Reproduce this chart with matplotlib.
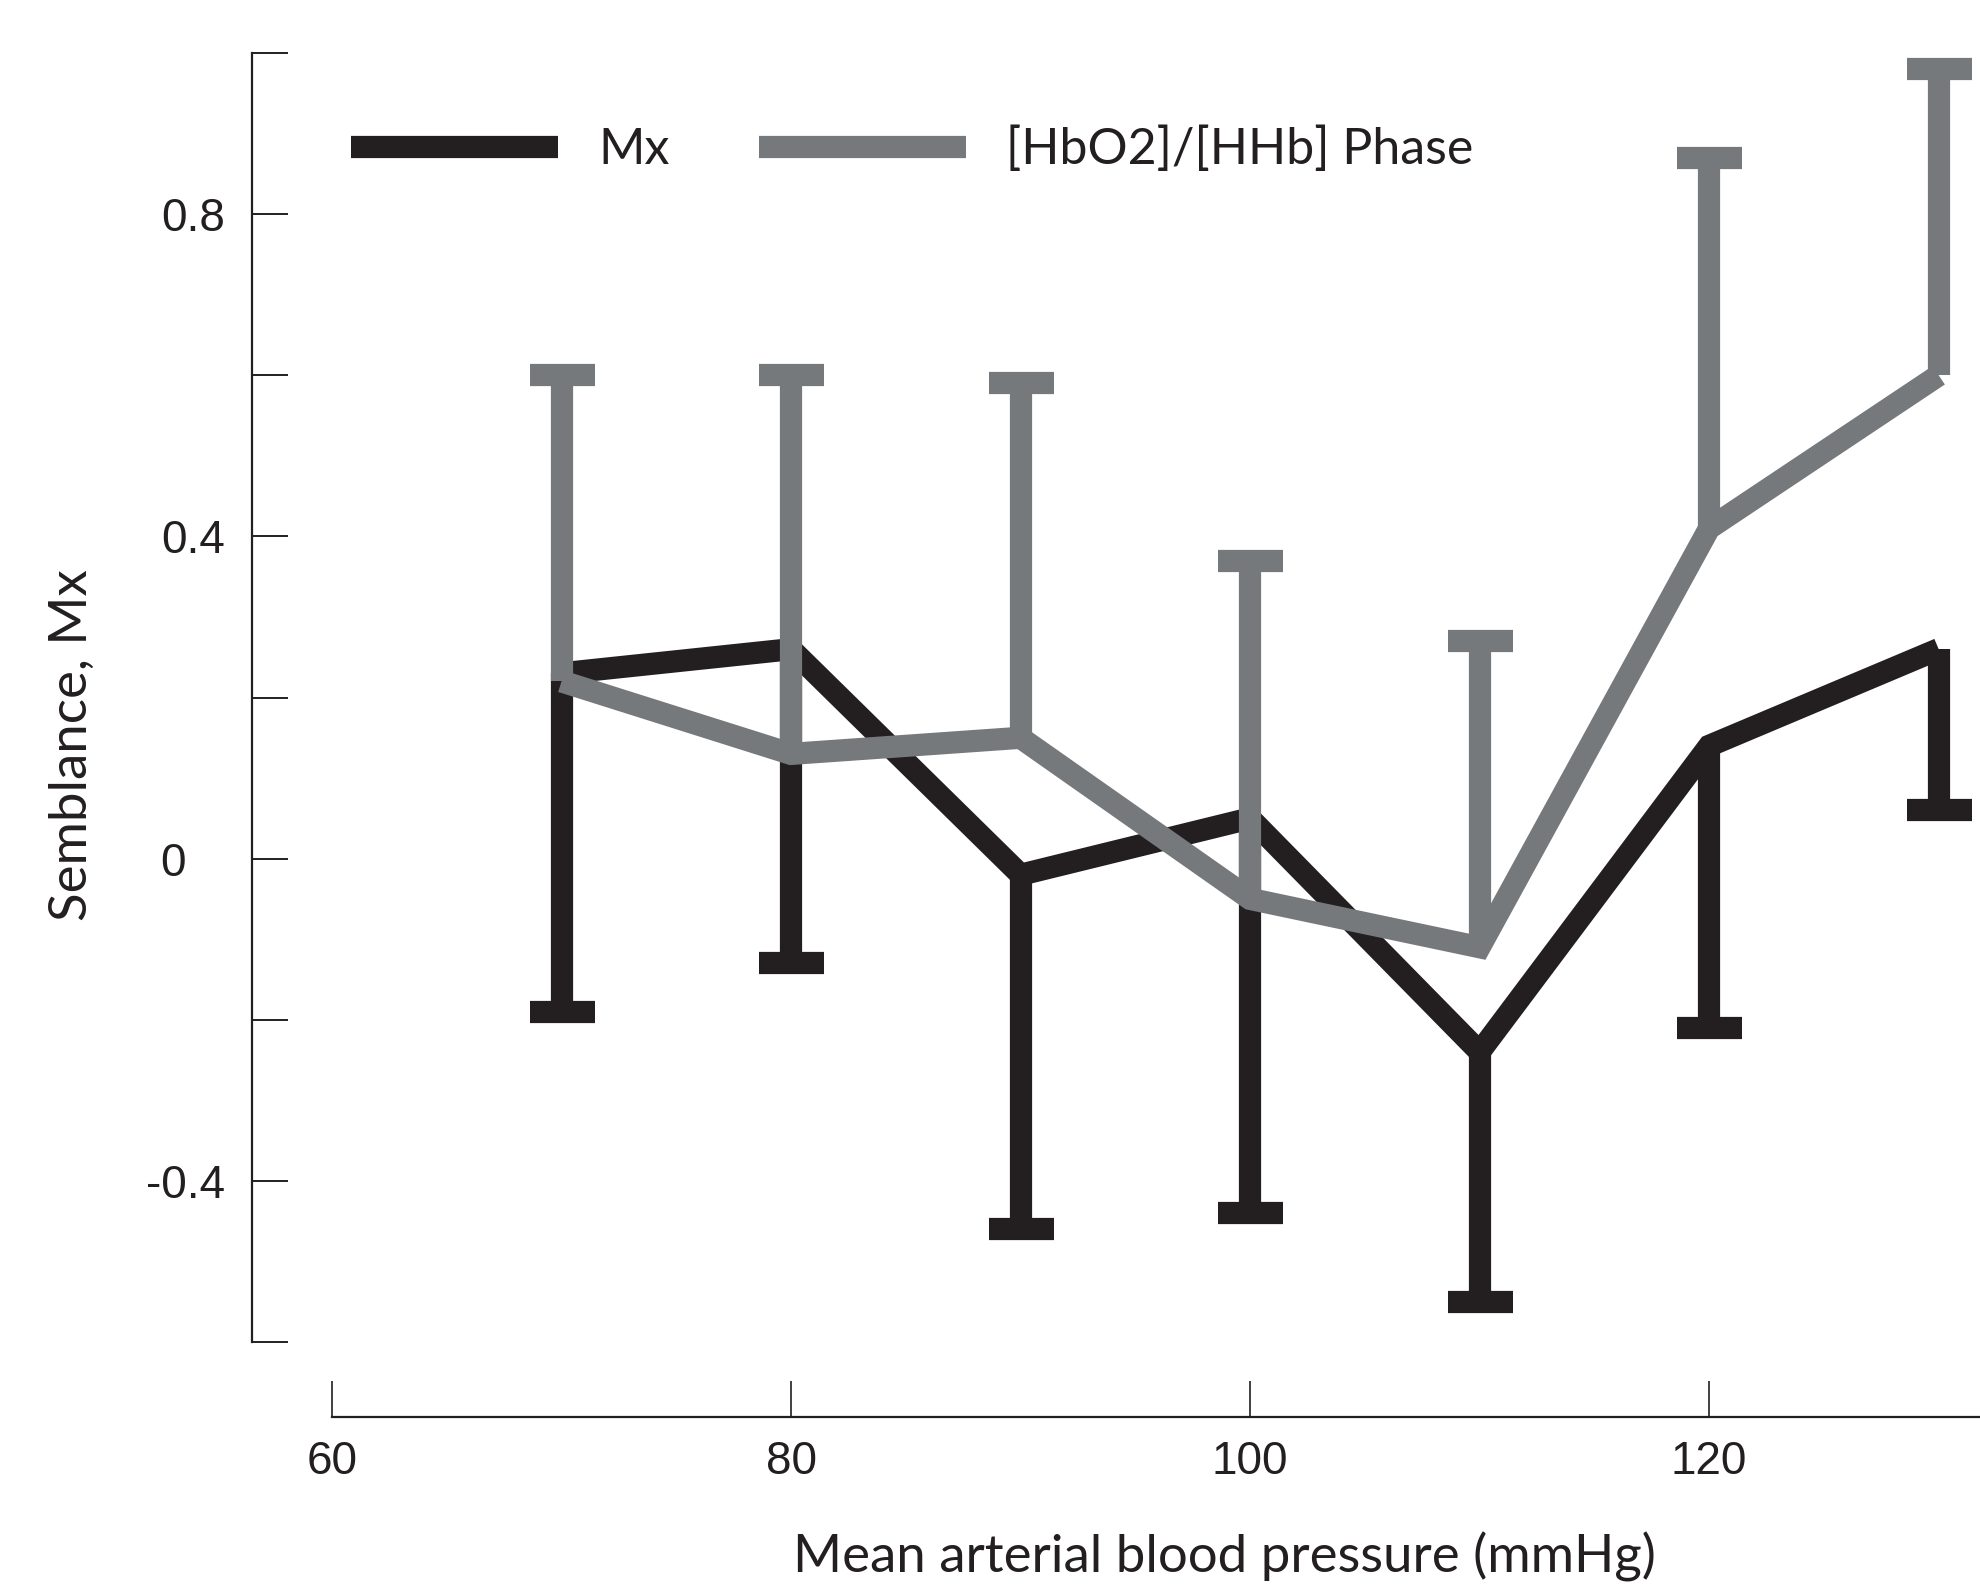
import numpy as np
import matplotlib
matplotlib.use("Agg")
from matplotlib import pyplot as plt
from matplotlib.ticker import FixedLocator, FixedFormatter

# data
pressure = [70, 80, 90, 100, 110, 120, 130]
mx = [0.23, 0.26, -0.02, 0.05, -0.24, 0.14, 0.26]
mx_low = [-0.19, -0.13, -0.46, -0.44, -0.55, -0.21, 0.06]
phase = [0.22, 0.13, 0.15, -0.05, -0.11, 0.41, 0.60]
phase_high = [0.60, 0.60, 0.59, 0.37, 0.27, 0.87, 0.98]

y_ticks = [1.0, 0.8, 0.6, 0.4, 0.2, 0.0, -0.2, -0.4, -0.6]
# "0" sits left-aligned with the other labels in the original
y_labels = ["", "0.8", "", "0.4", "", "0\u00a0\u00a0\u00a0", "", "-0.4", ""]
x_ticks = [60, 80, 100, 120]
x_labels = ["60", "80", "100", "120"]

black = "#231f20"
gray = "#76797c"
label_font = "Lato"
tick_font = "Liberation Sans"

plt.rcParams["lines.solid_capstyle"] = "butt"
plt.rcParams["lines.solid_joinstyle"] = "miter"

fig = plt.figure(figsize=(19.8, 15.84), dpi=100)
ax = fig.add_axes([332 / 1980, 1 - 1342 / 1584, 1 - 332 / 1980, (1342 - 53) / 1584])

lw = 16
cap = 23.4


def one_sided(x, y, lo, hi, color, z, label):
    ax.plot(x, y, color=color, lw=lw, zorder=z, label=label)
    err = [np.array(y) - np.array(lo), np.array(hi) - np.array(y)]
    eb = ax.errorbar(x, y, yerr=err, fmt="none", ecolor=color, elinewidth=lw,
                     capsize=cap, capthick=lw, zorder=z)
    # drop the cap that would sit on the data point itself
    for c in eb.lines[1]:
        if np.allclose(c.get_ydata(), y):
            c.remove()


one_sided(pressure, mx, mx_low, mx, black, 2, "Mx")
one_sided(pressure, phase, phase, phase_high, gray, 3, "[HbO2]/[HHb] Phase")

ax.set_xlim(60, 131.8)
ax.set_ylim(-0.6, 1.0)

for s in ["top", "right"]:
    ax.spines[s].set_visible(False)
ax.spines["left"].set_position(("outward", 57.6))
ax.spines["bottom"].set_position(("outward", 54))
ax.spines["left"].set_bounds(-0.6, 1.0)
for s in ["left", "bottom"]:
    ax.spines[s].set_linewidth(1.6)
    ax.spines[s].set_color(black)

ax.yaxis.set_major_locator(FixedLocator(y_ticks))
ax.yaxis.set_major_formatter(FixedFormatter(y_labels))
ax.xaxis.set_major_locator(FixedLocator(x_ticks))
ax.xaxis.set_major_formatter(FixedFormatter(x_labels))
ax.tick_params(axis="y", direction="in", length=26, width=1.4, pad=19.5,
               colors=black, labelsize=33)
ax.tick_params(axis="x", direction="in", length=26, width=1.2, pad=16.5,
               colors=black, labelsize=33)
for t in ax.get_xticklabels() + ax.get_yticklabels():
    t.set_fontfamily(tick_font)

leg = ax.legend(ncol=2, loc="center left", bbox_to_anchor=(351 / 1980, 1 - 150 / 1584),
                bbox_transform=fig.transFigure, frameon=False, borderpad=0,
                borderaxespad=0, handlelength=4.14, handletextpad=0.8,
                columnspacing=1.8, prop={"family": label_font, "size": 36})
for t in leg.get_texts():
    t.set_color(black)

fig.text(72 / 1980, 1 - 745 / 1584, "Semblance, Mx", rotation=90, ha="center",
         va="center", fontsize=38, family=label_font, color=black)
fig.text(1224 / 1980, 1 - 1572 / 1584, "Mean arterial blood pressure (mmHg)",
         ha="center", va="baseline", fontsize=38, family=label_font, color=black)

fig.savefig("out.png", dpi=100)
